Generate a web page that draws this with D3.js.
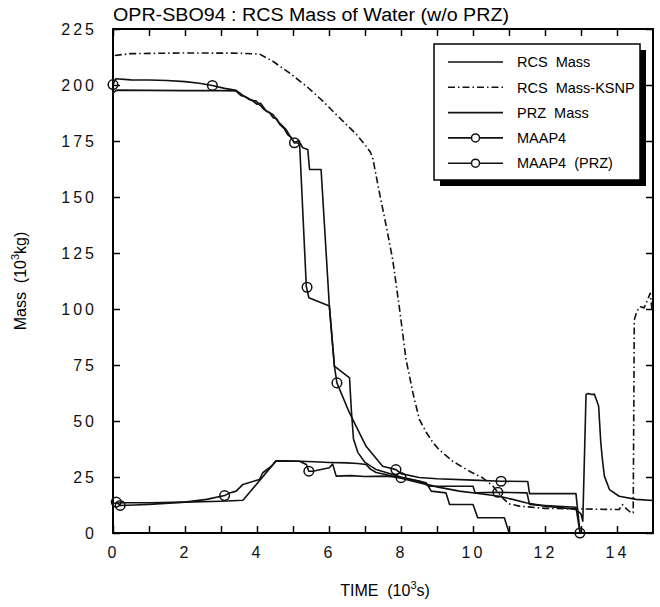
<!DOCTYPE html>
<html>
<head>
<meta charset="utf-8">
<script src="https://cdn.jsdelivr.net/npm/d3@7"></script>
<style>
  body { margin: 0; background: #fff; }
  svg { display: block; font-family: "Liberation Sans", Arial, sans-serif; }
  text { white-space: pre; }
</style>
</head>
<body>
<svg id="chart"></svg>
<script>
// values: [time (10^3 s), mass (10^3 kg)]
var rcsMass = [[0,196.5],[0.1,197.7],[1,197.6],[2,197.5],[3,197.5],[3.42,197.3],[3.55,195.3],[3.7,194.6],[3.85,193.2],[4.0,191.4],[4.1,191.9],[4.26,188.3],[4.35,187.6],[4.45,185.4],[4.55,184.9],[4.63,182.4],[4.75,180.6],[4.85,177.9],[4.95,176.6],[5.04,174.2],[5.2,174],[5.27,172],[5.41,171.2],[5.46,162.3],[5.78,162.3],[6.01,101.3],[6.15,74.5],[6.57,69.3],[6.62,55],[6.68,42],[6.8,36],[7.0,31.5],[7.31,28.3],[7.77,26.1],[8.0,25],[8.5,23.2],[8.7,22.4],[8.84,18.7],[9.25,17.9],[9.35,12.7],[10.0,12.7],[10.13,6.8],[10.87,6.8],[10.99,0.8],[11.05,0]];
var rcsMassKsnp = [[0.05,213.2],[0.5,214],[2,214.3],[3.5,214.2],[4.07,213.8],[4.44,210.6],[4.9,205.4],[5.37,199.5],[5.83,192.8],[6.29,185.4],[6.76,178],[7.03,172.7],[7.15,170],[7.22,167],[7.4,152],[7.59,137],[7.77,122],[7.96,100],[8.14,77.5],[8.33,62.6],[8.51,50.7],[8.7,45],[8.88,40.5],[9.07,37],[9.44,32],[9.9,27.6],[10.27,24.6],[10.55,21],[10.8,16],[11.0,13],[11.29,12],[12.0,11],[12.86,10.8],[13.5,10.6],[14.06,10.5],[14.15,12.7],[14.25,11],[14.39,9],[14.45,9],[14.48,95],[14.55,99],[14.65,101],[14.75,100.5],[14.85,104],[14.92,107],[14.97,100]];
var przMass = [[0,13.3],[0.3,13.5],[1,13.5],[2,13.8],[3,14.2],[3.61,14.6],[4.53,32.2],[5.2,32],[5.6,31.8],[6.0,31.5],[6.5,31.3],[6.8,31.0],[7.03,30.6],[7.15,28.5],[7.31,27],[7.6,26],[8.0,24.5],[8.5,22.5],[9.0,20.6],[9.62,18.7],[10.2,17.5],[10.73,16.4],[11.1,15],[11.47,13.5],[12.0,12.0],[12.5,11.2],[12.86,10.5],[13.0,8.5],[13.05,5.3],[13.14,61.8],[13.2,62.3],[13.3,61.8],[13.37,62],[13.46,58],[13.49,56.6],[13.55,40.3],[13.6,32],[13.65,25.4],[13.79,19.4],[14.06,16.4],[14.53,15],[15,14.5]];
var maap4 = [[0,200.2],[0.08,202.8],[0.5,202.3],[1,202.2],[1.5,202],[2,201.5],[2.4,200.8],[2.76,199.8],[3.1,198.5],[3.42,197.6],[3.6,195.5],[3.8,193.4],[3.98,192.8],[4.2,189],[4.44,186.8],[4.6,183.4],[4.81,180.1],[4.95,176.3],[5.04,174.2],[5.13,175],[5.18,175],[5.37,110],[5.44,105],[6.01,101.3],[6.15,74.5],[6.22,67],[6.57,53.6],[7.03,38.7],[7.49,29.8],[7.86,28.3],[8.0,26.5],[8.5,24.8],[9.0,24.2],[10.0,23.6],[10.78,23.1],[11.52,23],[11.57,17.6],[12.86,17.6],[12.97,0.4]];
var maap4Prz = [[0.09,13.8],[0.2,12.3],[0.6,12.5],[1,12.8],[2,13.8],[2.6,15],[3.1,16.7],[3.24,17.9],[3.42,18.7],[3.61,21.7],[4.07,23.9],[4.16,26.9],[4.4,29.8],[4.53,32.2],[5.18,32],[5.37,30.6],[5.44,27.6],[5.55,27.6],[6.01,29.1],[6.1,30.8],[6.2,25.4],[6.6,25.6],[7.0,25.2],[7.6,25.4],[8.0,24.7],[8.3,23.8],[8.51,23.1],[8.79,20.9],[10.0,20.9],[10.06,17.9],[10.69,18.2],[11.5,17.9],[11.57,12.7],[12.0,12.2],[12.86,11.5],[12.97,0.4]];

// circle marker positions
var maap4Marks = [[0,200.2],[2.76,199.8],[5.04,174.2],[5.39,109.7],[6.22,67],[7.86,28.3],[10.78,23.1],[12.97,0]];
var maap4PrzMarks = [[0.09,13.8],[0.2,12.3],[3.1,16.7],[5.44,27.6],[8.0,24.7],[10.69,18.2]];

var xTickValues = [0,1,2,3,4,5,6,7,8,9,10,11,12,13,14];
var xTickLabels = [0,2,4,6,8,10,12,14];
var yTickValues = [0,25,50,75,100,125,150,175,200,225];

var legendNames = ["RCS  Mass", "RCS  Mass-KSNP", "PRZ  Mass", "MAAP4", "MAAP4  (PRZ)"];

var svgWidth = 660, svgHeight = 607;
var margin = { top: 29, right: 7, bottom: 74, left: 113 };
var width = svgWidth - margin.left - margin.right;
var height = svgHeight - margin.top - margin.bottom;

var svg = d3.select("#chart")
    .attr("width", svgWidth)
    .attr("height", svgHeight);

var g = svg.append("g")
    .attr("transform", "translate(" + margin.left + "," + margin.top + ")");

var x = d3.scaleLinear().domain([0, 15]).range([0, width]);
var y = d3.scaleLinear().domain([0, 225]).range([height, 0]);

svg.append("defs").append("clipPath").attr("id", "plotclip")
    .append("rect").attr("x", 0).attr("y", -2).attr("width", width).attr("height", height + 2);

// axes: ticks on all four sides pointing inward
g.append("g")
    .attr("transform", "translate(0," + height + ")")
    .call(d3.axisBottom(x).tickValues(xTickValues).tickSize(-7).tickSizeOuter(0).tickPadding(14)
        .tickFormat(function(d) { return xTickLabels.indexOf(d) >= 0 ? d : ""; }))
    .call(function(a) { a.select(".domain").remove(); });

g.append("g")
    .call(d3.axisTop(x).tickValues(xTickValues).tickSize(-7).tickSizeOuter(0).tickFormat(""))
    .call(function(a) { a.select(".domain").remove(); });

g.append("g")
    .call(d3.axisLeft(y).tickValues(yTickValues).tickSize(-7).tickSizeOuter(0).tickPadding(16))
    .call(function(a) { a.select(".domain").remove(); });

g.append("g")
    .attr("transform", "translate(" + width + ",0)")
    .call(d3.axisRight(y).tickValues(yTickValues).tickSize(-7).tickSizeOuter(0).tickFormat(""))
    .call(function(a) { a.select(".domain").remove(); });

g.selectAll(".tick line").attr("stroke", "#000").attr("stroke-width", 1.5);
g.selectAll(".tick text")
    .attr("fill", "#111")
    .style("font-size", "16px")
    .style("letter-spacing", "3px")
    .style("font-family", "'Liberation Sans', Arial, sans-serif");

g.append("rect")
    .attr("width", width).attr("height", height)
    .attr("fill", "none").attr("stroke", "#000").attr("stroke-width", 2);

// curves
var line = d3.line()
    .x(function(d) { return x(d[0]); })
    .y(function(d) { return y(d[1]); });

var plot = g.append("g").attr("clip-path", "url(#plotclip)");

var series = [
    { data: rcsMass, dash: null },
    { data: rcsMassKsnp, dash: "7,3,1.5,3" },
    { data: przMass, dash: null },
    { data: maap4, dash: null },
    { data: maap4Prz, dash: null }
];

series.forEach(function(s) {
    plot.append("path")
        .datum(s.data)
        .attr("fill", "none")
        .attr("stroke", "#111")
        .attr("stroke-width", 1.6)
        .attr("stroke-linejoin", "round")
        .attr("stroke-dasharray", s.dash)
        .attr("d", line);
});

g.selectAll(".mark")
    .data(maap4Marks.concat(maap4PrzMarks))
    .enter().append("circle")
    .attr("cx", function(d) { return x(d[0]); })
    .attr("cy", function(d) { return y(d[1]); })
    .attr("r", 4.8)
    .attr("fill", "none")
    .attr("stroke", "#111")
    .attr("stroke-width", 1.5);

// title and axis labels
svg.append("text")
    .attr("x", 113).attr("y", 21)
    .attr("textLength", 396).attr("lengthAdjust", "spacingAndGlyphs")
    .style("font-size", "18px")
    .text("OPR-SBO94 : RCS Mass of Water (w/o PRZ)");

var xl = svg.append("text")
    .attr("x", 385).attr("y", 596)
    .attr("text-anchor", "middle")
    .style("font-size", "16px");
xl.append("tspan").text("TIME  (10");
xl.append("tspan").attr("dy", -7).style("font-size", "11px").text("3");
xl.append("tspan").attr("dy", 7).text("s)");

var yl = svg.append("text")
    .attr("transform", "translate(26,281) rotate(-90)")
    .attr("text-anchor", "middle")
    .style("font-size", "16px");
yl.append("tspan").text("Mass  (10");
yl.append("tspan").attr("dy", -7).style("font-size", "11px").text("3");
yl.append("tspan").attr("dy", 7).text("kg)");

// legend with drop shadow
var lg = svg.append("g").attr("transform", "translate(434,44)");
lg.append("rect").attr("x", 6).attr("y", 6).attr("width", 206).attr("height", 136).attr("fill", "#000");
lg.append("rect").attr("width", 206).attr("height", 136).attr("fill", "#fff")
    .attr("stroke", "#000").attr("stroke-width", 1.5);

var rows = lg.selectAll(".row")
    .data(legendNames)
    .enter().append("g")
    .attr("transform", function(d, i) { return "translate(0," + (18 + i * 25.3) + ")"; });

rows.append("line")
    .attr("x1", 14).attr("x2", 69)
    .attr("stroke", "#111").attr("stroke-width", 1.6)
    .attr("stroke-dasharray", function(d, i) { return series[i].dash; });

rows.filter(function(d, i) { return i >= 3; })
    .append("circle")
    .attr("cx", 41.5).attr("r", 4)
    .attr("fill", "#fff").attr("stroke", "#111").attr("stroke-width", 1.5);

rows.append("text")
    .attr("x", 83).attr("dy", "0.36em")
    .style("font-size", "14.5px")
    .text(function(d) { return d; });
</script>
</body>
</html>
